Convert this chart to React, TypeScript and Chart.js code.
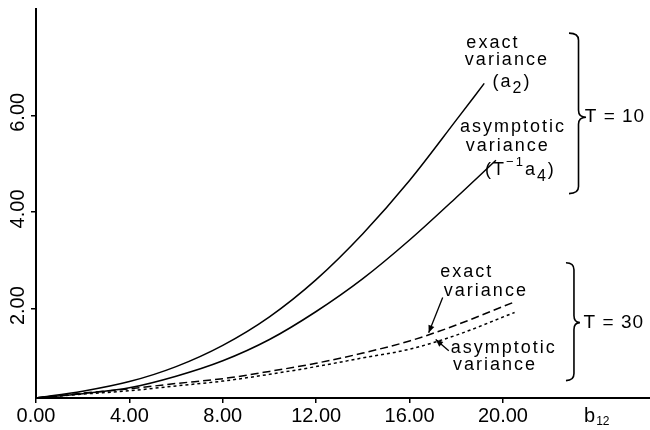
import React, { useEffect, useRef } from 'react';
import { Chart, registerables } from 'chart.js';

Chart.register(...registerables);

// ---- data ----
const exactT10X = [0, 2, 4, 6, 8, 10, 12, 14, 16, 18, 19.2];
const exactT10Y = [0.15, 0.29, 0.49, 0.8, 1.24, 1.83, 2.6, 3.55, 4.65, 5.9, 6.66];

const asymT10X = [0, 2, 4, 6, 8, 10, 12, 14, 16, 18, 19.7];
const asymT10Y = [0.15, 0.24, 0.36, 0.6, 0.92, 1.36, 1.94, 2.62, 3.42, 4.3, 5.07];

const exactT30X = [0, 2, 4, 6, 8, 10, 12, 14, 16, 18, 20.4];
const exactT30Y = [0.15, 0.25, 0.34, 0.45, 0.55, 0.7, 0.87, 1.08, 1.33, 1.66, 2.12];

const asymT30X = [0, 2, 4, 6, 8, 10, 12, 14, 16, 18, 20.5];
const asymT30Y = [0.15, 0.23, 0.3, 0.4, 0.5, 0.64, 0.8, 0.98, 1.16, 1.45, 1.92];

const xTickValues = [0, 4, 8, 12, 16, 20];
const yTickValues = [2, 4, 6];
const xAxisLabelValue = 24;

const FONT = '"Liberation Sans", Arial, sans-serif';

type Seg = { t: string; s: number; dy: number };

// annotation texts anchored in data units
const plainTexts = [
  { t: 'exact', x: 19.57, y: 7.49 },
  { t: 'variance', x: 20.17, y: 7.14 },
  { t: 'asymptotic', x: 20.43, y: 5.75 },
  { t: 'variance', x: 20.21, y: 5.36 },
  { t: 'exact', x: 18.45, y: 2.75 },
  { t: 'variance', x: 19.27, y: 2.37 },
  { t: 'asymptotic', x: 20.04, y: 1.19 },
  { t: 'variance', x: 19.66, y: 0.84 },
];

const richTexts: { segs: Seg[]; x: number; y: number }[] = [
  {
    segs: [
      { t: '(a', s: 18, dy: 0 },
      { t: '2', s: 16, dy: 6 },
      { t: ')', s: 18, dy: 0 },
    ],
    x: 20.39,
    y: 6.68,
  },
  {
    segs: [
      { t: '(T', s: 18, dy: 0 },
      { t: '\u22121', s: 13, dy: -8 },
      { t: 'a', s: 18, dy: 0 },
      { t: '4', s: 16, dy: 6 },
      { t: ')', s: 18, dy: 0 },
    ],
    x: 20.75,
    y: 4.86,
  },
];

const braces = [
  { x: 22.83, w: 0.73, top: 7.7, bottom: 4.38, tip: 5.96, label: 'T = 10', lx: 24.8 },
  { x: 22.7, w: 0.6, top: 2.95, bottom: 0.51, tip: 1.71, label: 'T = 30', lx: 24.75 },
];

const arrows = [
  { x1: 17.42, y1: 2.23, x2: 16.82, y2: 1.5 },
  { x1: 17.68, y1: 1.13, x2: 17.12, y2: 1.36 },
];

function toPts(xs: number[], ys: number[]) {
  return xs.map((x, i) => ({ x, y: ys[i] }));
}

const annotPlugin = {
  id: 'annot',
  afterDraw(chart: any) {
    const { ctx } = chart;
    const xs = chart.scales.x;
    const ys = chart.scales.y;
    const px = (v: number) => xs.getPixelForValue(v);
    const py = (v: number) => ys.getPixelForValue(v);
    ctx.save();
    ctx.fillStyle = '#000';
    ctx.strokeStyle = '#000';

    // rotated y tick labels
    ctx.font = `20px ${FONT}`;
    yTickValues.forEach((v) => {
      ctx.save();
      ctx.translate(18, py(v) - 3);
      ctx.rotate(-Math.PI / 2);
      ctx.textAlign = 'center';
      ctx.textBaseline = 'middle';
      ctx.fillText(v.toFixed(2), 0, 0);
      ctx.restore();
    });

    // x axis label b12
    const bx = px(xAxisLabelValue);
    const by = chart.chartArea.bottom + 18;
    ctx.textBaseline = 'middle';
    ctx.textAlign = 'left';
    ctx.font = `20px ${FONT}`;
    const bw = ctx.measureText('b').width;
    ctx.font = `12px ${FONT}`;
    const sw = ctx.measureText('12').width;
    const start = bx - (bw + sw) / 2;
    ctx.font = `20px ${FONT}`;
    ctx.fillText('b', start, by);
    ctx.font = `12px ${FONT}`;
    ctx.fillText('12', start + bw + 1, by + 6);

    // plain annotation texts
    (ctx as any).letterSpacing = '2px';
    ctx.font = `18px ${FONT}`;
    ctx.textAlign = 'center';
    ctx.textBaseline = 'middle';
    plainTexts.forEach((p) => ctx.fillText(p.t, px(p.x), py(p.y)));

    // rich texts
    ctx.textAlign = 'left';
    richTexts.forEach((r) => {
      let total = 0;
      r.segs.forEach((s) => {
        ctx.font = `${s.s}px ${FONT}`;
        total += ctx.measureText(s.t).width;
      });
      let cx = px(r.x) - total / 2;
      const cy = py(r.y);
      r.segs.forEach((s) => {
        ctx.font = `${s.s}px ${FONT}`;
        ctx.fillText(s.t, cx, cy + s.dy);
        cx += ctx.measureText(s.t).width;
      });
    });
    (ctx as any).letterSpacing = '0px';

    // braces + labels
    ctx.lineWidth = 1.6;
    braces.forEach((b) => {
      const x0 = px(b.x);
      const x1 = px(b.x + b.w);
      const xm = (x0 + x1) / 2 + 1;
      const yT = py(b.top);
      const yB = py(b.bottom);
      const yM = py(b.tip);
      const r = 7;
      ctx.beginPath();
      ctx.moveTo(x0, yT);
      ctx.quadraticCurveTo(xm, yT, xm, yT + r);
      ctx.lineTo(xm, yM - r);
      ctx.quadraticCurveTo(xm, yM, x1, yM);
      ctx.quadraticCurveTo(xm, yM, xm, yM + r);
      ctx.lineTo(xm, yB - r);
      ctx.quadraticCurveTo(xm, yB, x0, yB);
      ctx.stroke();
      (ctx as any).letterSpacing = '1px';
      ctx.font = `19px ${FONT}`;
      ctx.textAlign = 'center';
      ctx.textBaseline = 'middle';
      ctx.fillText(b.label, px(b.lx), yM);
      (ctx as any).letterSpacing = '0px';
    });

    // arrows
    ctx.lineWidth = 1.3;
    arrows.forEach((a) => {
      const x1 = px(a.x1), y1 = py(a.y1), x2 = px(a.x2), y2 = py(a.y2);
      ctx.beginPath();
      ctx.moveTo(x1, y1);
      ctx.lineTo(x2, y2);
      ctx.stroke();
      const ang = Math.atan2(y2 - y1, x2 - x1);
      const L = 8, W = 0.4;
      ctx.beginPath();
      ctx.moveTo(x2, y2);
      ctx.lineTo(x2 - L * Math.cos(ang - W), y2 - L * Math.sin(ang - W));
      ctx.lineTo(x2 - L * Math.cos(ang + W), y2 - L * Math.sin(ang + W));
      ctx.closePath();
      ctx.fill();
    });

    ctx.restore();
  },
};

export default function App() {
  const ref = useRef<HTMLCanvasElement | null>(null);
  useEffect(() => {
    if (!ref.current) return;
    const line = {
      borderColor: '#000',
      borderWidth: 1.5,
      pointRadius: 0,
      fill: false,
      cubicInterpolationMode: 'monotone' as const,
    };
    const chart = new Chart(ref.current, {
      type: 'line',
      data: {
        datasets: [
          { ...line, label: 'exact T=10', data: toPts(exactT10X, exactT10Y) },
          { ...line, label: 'asymptotic T=10', data: toPts(asymT10X, asymT10Y) },
          { ...line, label: 'exact T=30', data: toPts(exactT30X, exactT30Y), borderDash: [8, 4] },
          { ...line, label: 'asymptotic T=30', data: toPts(asymT30X, asymT30Y), borderDash: [3, 3] },
        ],
      },
      options: {
        animation: false,
        responsive: false,
        layout: { padding: { left: 31, top: 9, right: 0, bottom: 1 } },
        plugins: { legend: { display: false }, tooltip: { enabled: false } },
        scales: {
          x: {
            type: 'linear',
            min: 0,
            max: 26.3,
            afterBuildTicks: (s: any) => {
              s.ticks = xTickValues.map((v) => ({ value: v }));
            },
            ticks: {
              callback: (v: any) => Number(v).toFixed(2),
              font: { family: FONT, size: 20 },
              color: '#000',
              padding: 1,
              maxRotation: 0,
              autoSkip: false,
            },
            grid: { display: true, drawOnChartArea: false, drawTicks: true, tickLength: 5, color: '#000', lineWidth: 1.5 },
            border: { display: true, color: '#000', width: 2 },
          },
          y: {
            type: 'linear',
            min: 0.15,
            max: 8.2,
            afterBuildTicks: (s: any) => {
              s.ticks = yTickValues.map((v) => ({ value: v }));
            },
            ticks: { display: false },
            grid: { display: true, drawOnChartArea: false, drawTicks: true, tickLength: 5, color: '#000', lineWidth: 1.5 },
            border: { display: true, color: '#000', width: 2 },
          },
        },
      },
      plugins: [annotPlugin],
    });
    return () => chart.destroy();
  }, []);
  return (
    <div style={{ position: 'absolute', left: 0, top: 0, width: 650, height: 430, background: '#fff' }}>
      <canvas ref={ref} width={650} height={430} style={{ display: 'block' }} />
    </div>
  );
}
